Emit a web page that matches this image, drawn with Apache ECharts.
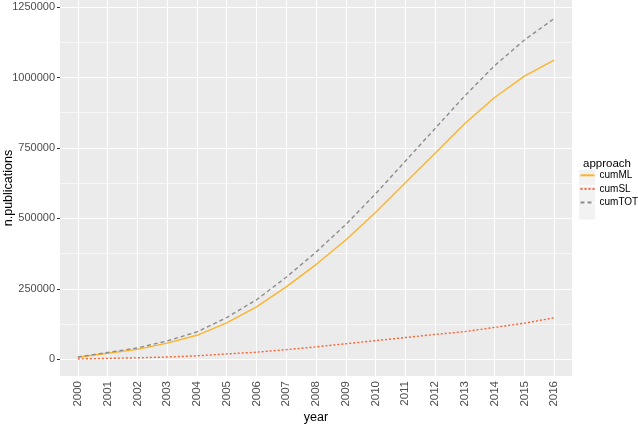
<!DOCTYPE html>
<html>
<head>
<meta charset="utf-8">
<script src="https://cdn.jsdelivr.net/npm/echarts@6/dist/echarts.min.js"></script>
<style>
  html, body { margin: 0; padding: 0; background: #fff; }
  #chart { width: 638px; height: 424px; }
</style>
</head>
<body>
<div id="chart"></div>
<script>
// data
const years = [2000, 2001, 2002, 2003, 2004, 2005, 2006, 2007, 2008, 2009, 2010, 2011, 2012, 2013, 2014, 2015, 2016];
const cumML = [7000, 21000, 35000, 57000, 85000, 129000, 186000, 257000, 336000, 423000, 521000, 626000, 731000, 837000, 929000, 1005000, 1062000];
const cumSL = [1000, 3000, 5000, 8000, 12000, 19000, 25000, 34000, 44000, 55000, 66000, 77000, 88000, 98000, 113000, 128000, 147000];
const cumTOT = [8000, 24000, 40000, 65000, 97000, 148000, 211000, 291000, 380000, 478000, 587000, 703000, 819000, 935000, 1042000, 1133000, 1209000];
const yTicks = [0, 250000, 500000, 750000, 1000000, 1250000];
const yMinor = [125000, 375000, 625000, 875000, 1125000];

const font = 'Liberation Sans, Arial, Helvetica, sans-serif';
const chart = echarts.init(document.getElementById('chart'));

const pairs = arr => years.map((y, i) => [y, arr[i]]);
const gridLines = [].concat(
  yTicks.map(v => ({ yAxis: v, lineStyle: { width: 1.1 } })),
  yMinor.map(v => ({ yAxis: v, lineStyle: { width: 0.6 } })),
  years.map(v => ({ xAxis: v, lineStyle: { width: 1.1 } }))
);

const option = {
  animation: false,
  textStyle: { fontFamily: font },
  grid: {
    left: 60, top: 0, width: 512, height: 376,
    outerBoundsMode: 'none', containLabel: false,
    show: true, backgroundColor: '#EBEBEB', borderWidth: 0
  },
  title: {
    text: 'approach', left: 578, top: 153,
    textStyle: { fontSize: 11.5, fontWeight: 'normal', color: '#000', fontFamily: font }
  },
  legend: {
    data: ['cumML', 'cumSL', 'cumTOT'],
    orient: 'vertical', left: 579.5, top: 168.5,
    itemWidth: 14, itemHeight: 17, itemGap: 0, padding: 0,
    itemStyle: { opacity: 0 },
    textStyle: { fontSize: 10, color: '#000', fontFamily: font }
  },
  graphic: [0, 1, 2].map(i => ({
    type: 'rect', left: 578, top: 168.5 + i * 17, z: 0,
    shape: { width: 17, height: 17 },
    style: { fill: '#F2F2F2', stroke: '#fff', lineWidth: 1 }
  })),
  xAxis: {
    type: 'value', min: 1999.4, max: 2016.6,
    name: 'year', nameLocation: 'middle', nameGap: 35, nameMoveOverlap: false,
    nameTextStyle: { fontSize: 12.5, color: '#000' },
    axisLine: { show: false },
    axisTick: { show: true, length: 3, customValues: years, lineStyle: { color: '#333' } },
    axisLabel: {
      customValues: years, rotate: 90, margin: 5,
      fontSize: 11.5, color: '#4D4D4D', formatter: v => String(v)
    },
    splitLine: { show: false }
  },
  yAxis: {
    type: 'value', min: -59500, max: 1275000,
    name: 'n.publications', nameLocation: 'middle', nameGap: 45, nameMoveOverlap: false,
    nameTextStyle: { fontSize: 12.5, color: '#000' },
    axisLine: { show: false },
    axisTick: { show: true, length: 3, customValues: yTicks, lineStyle: { color: '#333' } },
    axisLabel: {
      customValues: yTicks, margin: 5,
      fontSize: 11, color: '#4D4D4D', formatter: v => String(v)
    },
    splitLine: { show: false }
  },
  series: [
    {
      name: 'grid', type: 'line', data: [], z: 1, silent: true,
      markLine: {
        silent: true, z: 1, symbol: ['none', 'none'], label: { show: false },
        lineStyle: { color: '#fff', type: 'solid' },
        data: gridLines
      }
    },
    {
      name: 'cumML', type: 'line', data: pairs(cumML), z: 3,
      symbol: 'none', color: '#FBB42B',
      lineStyle: { width: 1.4, type: 'solid', color: '#FBB42B' }
    },
    {
      name: 'cumSL', type: 'line', data: pairs(cumSL), z: 3,
      symbol: 'none', color: '#F9612F',
      lineStyle: { width: 1.4, type: [2, 2], color: '#F9612F' }
    },
    {
      name: 'cumTOT', type: 'line', data: pairs(cumTOT), z: 3,
      symbol: 'none', color: '#8C8C8C',
      lineStyle: { width: 1.4, type: [4, 3], color: '#8C8C8C' }
    }
  ]
};

chart.setOption(option);
window.addEventListener('resize', () => chart.resize());
</script>
</body>
</html>
